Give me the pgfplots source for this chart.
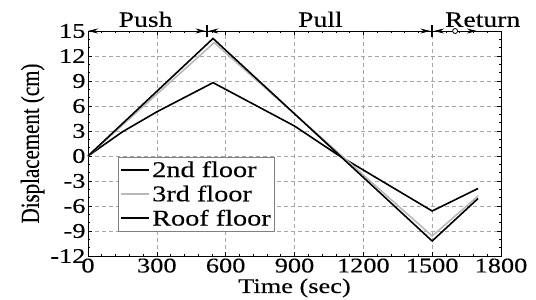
\documentclass[border=0pt]{standalone}
\usepackage{fontspec}
\setmainfont{Liberation Serif}[FakeStretch=1.26, FakeBold=0.3]
\newfontfamily\ylabfont{Liberation Serif}[FakeBold=0.3]
\usepackage{graphicx}
\usepackage{pgfplots}
\pgfplotsset{compat=1.18}
\usetikzlibrary{arrows.meta}
\begin{document}
\begin{tikzpicture}
\path[use as bounding box] (-88bp,-44bp) rectangle (448bp,256bp);
\begin{axis}[
 at={(0,0)}, anchor=south west,
 scale only axis, width=413bp, height=225bp,
 xmin=0, xmax=1800, ymin=-12, ymax=15,
 xtick={0,300,...,1800}, ytick={-12,-9,...,15},
 minor x tick num=4, minor y tick num=2,
 tick align=inside, major tick length=4bp, minor tick length=2bp,
 grid=major,
 major grid style={gray!70, dash pattern=on 4bp off 3bp, line width=0.6bp},
 axis line style={black, line width=0.8bp},
 tick style={black, line width=0.6bp},
 /pgf/number format/assume math mode=true,
 /pgf/number format/set thousands separator={},
 ticklabel style={font=\fontsize{21}{23}\selectfont},
 xticklabel style={yshift=1bp},
 yticklabel style={xshift=1bp},
 xlabel={Time (sec)},
 ylabel={\ylabfont\scalebox{1}[1.25]{Displacement (cm)}},
 label style={font=\fontsize{21}{23}\selectfont},
 xlabel style={yshift=1bp},
 ylabel style={yshift=-1bp},
 clip=false,
 legend style={at={(axis cs:131,-0.1)}, anchor=north west, draw=gray, line width=0.8bp, fill=white,
   font=\fontsize{22.5}{24}\selectfont, inner sep=2bp, row sep=3bp, cells={anchor=west}},
 legend image code/.code={\draw[#1, line width=1.8bp] (0bp,0bp) -- (28bp,0bp);},
]
\addplot[black, line width=1.6bp] coordinates {(0,0) (150,2.9) (300,5.3) (545,8.8) (900,3.6) (1085,0.2) (1500,-6.6) (1700,-3.9)};
\addlegendentry{2nd floor}
\addplot[gray!55, line width=1.6bp] coordinates {(0,0) (550,13.6) (1500,-9.6) (1700,-4.8)};
\addlegendentry{3rd floor}
\addplot[black, line width=1.6bp] coordinates {(0,0) (545,14.1) (1500,-10.2) (1700,-5.1)};
\addlegendentry{Roof floor}
\draw[{Stealth[length=10bp,width=5bp]}-{Stealth[length=10bp,width=5bp]}, line width=0.8bp] (axis cs:0,15) -- (axis cs:512,15);
\draw[{Stealth[length=10bp,width=5bp]}-{Stealth[length=10bp,width=5bp]}, line width=0.8bp] (axis cs:525,15) -- (axis cs:1492,15);
\draw[{Stealth[length=10bp,width=5bp]}-{Stealth[length=10bp,width=5bp]}, line width=0.8bp] (axis cs:1508,15) -- (axis cs:1695,15);
\draw[line width=2bp] (axis cs:518,14.3) -- (axis cs:518,15.7);
\draw[line width=2bp] (axis cs:1500,14.3) -- (axis cs:1500,15.7);
\draw[line width=0.8bp, fill=white] (axis cs:1600,15) circle[radius=2.5bp];
\node[anchor=base, inner sep=0bp, font=\fontsize{22}{24}\selectfont] at (axis cs:251,15.5) {Push};
\node[anchor=base, inner sep=0bp, font=\fontsize{22}{24}\selectfont] at (axis cs:1013,15.5) {Pull};
\node[anchor=base, inner sep=0bp, font=\fontsize{22}{24}\selectfont] at (axis cs:1720,15.5) {Return};
\end{axis}
\end{tikzpicture}
\end{document}
